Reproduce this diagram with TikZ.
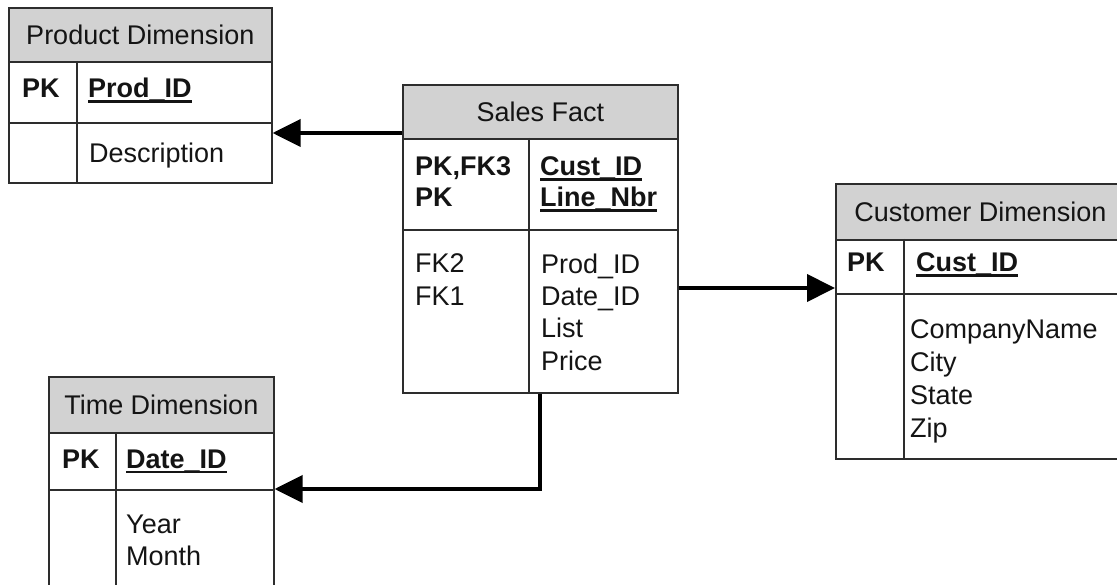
\documentclass[tikz,border=0pt]{standalone}
\usepackage{fontspec}
\setmainfont{Liberation Sans}
\usetikzlibrary{arrows.meta}
\definecolor{hdr}{RGB}{210,210,210}
\definecolor{bord}{RGB}{45,45,45}
\definecolor{ink}{RGB}{20,20,20}
\newcommand{\keyul}[1]{\setbox0\hbox{\bfseries #1}\rlap{\rule[-5pt]{\wd0}{2.5pt}}\box0}
\begin{document}
\begin{tikzpicture}[x=1pt,y=-1pt,
  tbl/.style={draw=bord, line width=1.6pt, anchor=north west, inner sep=0pt},
  hdrbox/.style={draw=bord, line width=1.6pt, fill=hdr, anchor=north west, inner sep=0pt, text=ink, font=\fontsize{27}{32}\selectfont},
  txt/.style={anchor=base west, inner sep=0pt, align=left, text=ink, font=\fontsize{27}{32.5}\selectfont},
  btxt/.style={txt, font=\fontsize{27}{31}\selectfont\bfseries},
  div/.style={draw=bord, line width=1.6pt},
  conn/.style={line width=4pt, line join=miter, -{Triangle[length=28pt,width=27pt]}}
]
\useasboundingbox (0,0) rectangle (1117,585);
\clip (0,0) rectangle (1117,585);

% multi-line text nodes are placed by the baseline of their LAST line

% ---------- Product Dimension
\node[tbl, minimum width=263pt, minimum height=175pt] (prod) at (8,7) {};
\node[hdrbox, minimum width=263pt, minimum height=54pt] (prodh) at (8,7) {Product Dimension};
\draw[div] (8,123) -- (271,123);
\draw[div] (77,61) -- (77,182);
\node[btxt] (prodpk) at (22,98) {PK};
\node[txt] (prodkey) at (88,98) {\keyul{Prod\_ID}};
\node[txt] (prodat) at (89,163) {Description};

% ---------- Sales Fact
\node[tbl, minimum width=275pt, minimum height=308pt] (sales) at (402,84) {};
\node[hdrbox, minimum width=275pt, minimum height=54pt] (salesh) at (402,84) {Sales Fact};
\draw[div] (402,230) -- (677,230);
\draw[div] (529,138) -- (529,392);
\node[btxt] (salespk) at (415,207) {PK,FK3\\PK};
\node[txt, font=\fontsize{27}{31}\selectfont] (saleskey) at (540,207) {\keyul{Cust\_ID}\\\keyul{Line\_Nbr}};
\node[txt] (salesfk) at (415,305.5) {FK2\\FK1};
\node[txt] (salesat) at (541,370.5) {Prod\_ID\\Date\_ID\\List\\Price};

% ---------- Customer Dimension
\node[tbl, minimum width=289pt, minimum height=275pt] (cust) at (835,183) {};
\node[hdrbox, minimum width=289pt, minimum height=56pt] (custh) at (835,183) {Customer Dimension};
\draw[div] (835,294) -- (1124,294);
\draw[div] (904,239) -- (904,458);
\node[btxt] (custpk) at (847,272) {PK};
\node[txt] (custkey) at (916,272) {\keyul{Cust\_ID}};
\node[txt, font=\fontsize{27}{33}\selectfont] (custat) at (910,437) {CompanyName\\City\\State\\Zip};

% ---------- Time Dimension
\node[tbl, minimum width=225pt, minimum height=234pt] (time) at (48,376) {};
\node[hdrbox, minimum width=225pt, minimum height=56pt] (timeh) at (48,376) {Time Dimension};
\draw[div] (48,490) -- (273,490);
\draw[div] (116,432) -- (116,610);
\node[btxt] (timepk) at (62,468) {PK};
\node[txt] (timekey) at (126,468) {\keyul{Date\_ID}};
\node[txt, font=\fontsize{27}{32}\selectfont] (timeat) at (126,565) {Year\\Month};

% ---------- connectors
\coordinate (c1) at (0,133);
\coordinate (c2) at (0,288);
\coordinate (c3) at (540,489);
\draw[conn] (sales.west |- c1) -- (prod.east |- c1);
\draw[conn] (sales.east |- c2) -- (cust.west |- c2);
\draw[conn] (sales.south -| c3) -- (c3) -- (time.east |- c3);
\end{tikzpicture}
\end{document}
